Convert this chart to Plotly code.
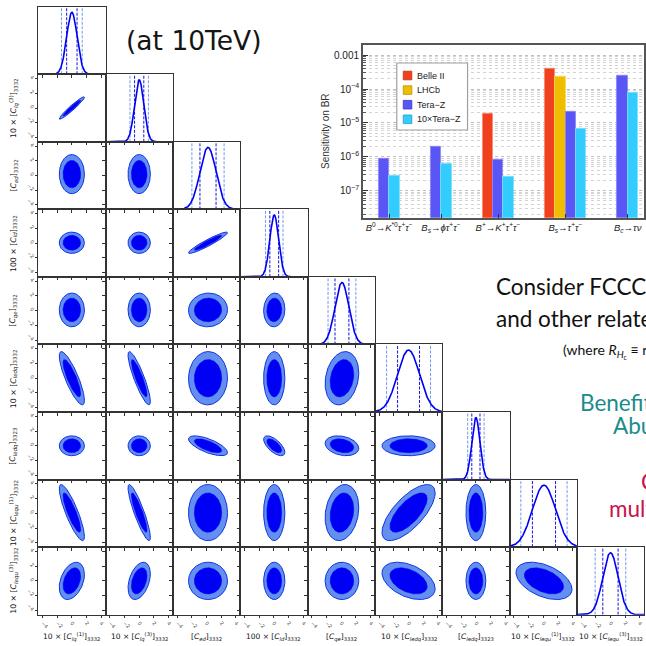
import numpy as np
import plotly.graph_objects as go

# ---------------- corner plot data ----------------
param_labels = [
    "10 × [<i>C</i><sub><i>lq</i></sub><sup>(1)</sup>]<sub>3332</sub>",
    "10 × [<i>C</i><sub><i>lq</i></sub><sup>(3)</sup>]<sub>3332</sub>",
    "[<i>C</i><sub><i>ed</i></sub>]<sub>3332</sub>",
    "100 × [<i>C</i><sub><i>ld</i></sub>]<sub>3332</sub>",
    "[<i>C</i><sub><i>qe</i></sub>]<sub>3332</sub>",
    "10 × [<i>C</i><sub><i>ledq</i></sub>]<sub>3332</sub>",
    "[<i>C</i><sub><i>ledq</i></sub>]<sub>3323</sub>",
    "10 × [<i>C</i><sub><i>lequ</i></sub><sup>(1)</sup>]<sub>3332</sub>",
    "10 × [<i>C</i><sub><i>lequ</i></sub><sup>(3)</sup>]<sub>3332</sub>",
]
param_means = [0.0, 0.0, 0.2, 0.05, 0.1, 0.0, 0.0, 0.1, 0.0]
param_sigmas = [0.71, 0.63, 1.10, 0.60, 0.95, 1.50, 0.56, 1.58, 1.05]
# correlation of row-parameter i with column-parameters 0..i-1
corr_rows = [
    [],
    [0.96],
    [0.0, 0.0],
    [0.0, 0.0, 0.94],
    [0.0, 0.0, 0.03, 0.05],
    [-0.83, -0.87, 0.02, 0.0, 0.2],
    [0.0, 0.0, -0.68, -0.65, -0.25, 0.0],
    [-0.85, -0.88, 0.0, 0.0, 0.18, 0.70, 0.0],
    [0.35, 0.38, 0.0, 0.0, 0.0, -0.42, 0.0, -0.45],
]
contour_levels = [2.42, 1.70]      # sqrt(delta chi2) for outer / inner region
axis_ticks = [-4, -2, 0, 2, 4]
axis_ticktext = ["−4", "−2", "0", "2", "4"]

# ---------------- bar chart data ----------------
decay_modes = [
    "<i>B</i><sup>0</sup>→<i>K</i><sup>*0</sup><i>τ</i><sup>+</sup><i>τ</i><sup>−</sup>",
    "<i>B<sub>s</sub></i>→<i>ϕτ</i><sup>+</sup><i>τ</i><sup>−</sup>",
    "<i>B</i><sup>+</sup>→<i>K</i><sup>+</sup><i>τ</i><sup>+</sup><i>τ</i><sup>−</sup>",
    "<i>B<sub>s</sub></i>→<i>τ</i><sup>+</sup><i>τ</i><sup>−</sup>",
    "<i>B<sub>c</sub></i>→<i>τν</i>",
]
experiments = ["Belle II", "LHCb", "Tera−Z", "10×Tera−Z"]
belle2 = [None, None, 1.9e-5, 3.9e-4, None]
lhcb = [None, None, None, 2.4e-4, None]
teraz = [8.7e-7, 2.0e-6, 8.3e-7, 2.1e-5, 2.5e-4]
teraz10 = [2.8e-7, 6.1e-7, 2.6e-7, 6.6e-6, 7.8e-5]
bar_colors = ["#f0401e", "#f0be00", "#5a55f5", "#33ccff"]
bar_edge = ["#f58a70", "#f5d560", "#8a86f7", "#80defc"]
legend_edge = ["#c8301a", "#c09000", "#3c36c8", "#20a0d0"]
y_tickvals = [1e-7, 1e-6, 1e-5, 1e-4, 1e-3]
y_ticktext = ["10<sup>−7</sup>", "10<sup>−6</sup>", "10<sup>−5</sup>", "10<sup>−4</sup>", "0.001"]

# ---------------- geometry ----------------
W = H = 646
GX0, GY0, CELL = 38.3, 6.7, 67.55
RNG = [-4.6, 4.6]
DARK = "#0000f5"
LIGHT = "#6390ee"
FRAME = "#333333"


def px2x(p):
    return min(max(p / W, 0.0), 1.0)


def px2y(p):
    return min(max(1 - p / H, 0.0), 1.0)


def xdom(j):
    return [px2x(GX0 + j * CELL), px2x(GX0 + (j + 1) * CELL)]


def ydom(i):
    return [px2y(GY0 + (i + 1) * CELL), px2y(GY0 + i * CELL)]


def ellipse(mx, my, sx, sy, rho, k, n=120):
    t = np.linspace(0, 2 * np.pi, n)
    cov = np.array([[sx * sx, rho * sx * sy], [rho * sx * sy, sy * sy]])
    L = np.linalg.cholesky(cov)
    pts = L @ np.vstack([np.cos(t), np.sin(t)]) * k
    return mx + pts[0], my + pts[1]


fig = go.Figure()
layout = {}
n = 0
npar = len(param_labels)
for i in range(npar):
    for j in range(i + 1):
        n += 1
        xa = "x" if n == 1 else f"x{n}"
        ya = "y" if n == 1 else f"y{n}"
        xk = "xaxis" if n == 1 else f"xaxis{n}"
        yk = "yaxis" if n == 1 else f"yaxis{n}"
        bottom = i == npar - 1
        left = j == 0
        common = dict(showline=True, mirror=True, linecolor=FRAME, linewidth=1,
                      showgrid=False, zeroline=False, fixedrange=True)
        layout[xk] = dict(domain=xdom(j), anchor=ya, range=RNG,
                          tickmode="array", tickvals=axis_ticks, ticktext=axis_ticktext,
                          ticks="outside", ticklen=2.5, tickwidth=0.8, tickcolor=FRAME,
                          showticklabels=bottom, tickangle=45,
                          tickfont=dict(size=5, color="#444", family="DejaVu Sans"),
                          **common)
        if i == j:
            m, s = param_means[i], param_sigmas[i]
            xs = np.linspace(RNG[0], RNG[1], 400)
            ys = np.exp(-0.5 * ((xs - m) / s) ** 2)
            layout[yk] = dict(domain=ydom(i), anchor=xa, range=[0, 1.09],
                              showticklabels=False, ticks="", **common)
            for mult, col in [(2, "#6d9bf0"), (1, "#1414e0")]:
                lx, ly = [], []
                for sgn in (-1, 1):
                    lx += [m + sgn * mult * s] * 2 + [None]
                    ly += [0, 1.09, None]
                fig.add_trace(go.Scatter(x=lx, y=ly, xaxis=xa, yaxis=ya, mode="lines",
                                         line=dict(color=col, width=1, dash="3px,1.5px"),
                                         showlegend=False, hoverinfo="skip"))
            fig.add_trace(go.Scatter(x=xs, y=ys, xaxis=xa, yaxis=ya, mode="lines",
                                     line=dict(color=DARK, width=1.6),
                                     showlegend=False, hoverinfo="skip"))
        else:
            layout[yk] = dict(domain=ydom(i), anchor=xa, range=RNG,
                              tickmode="array", tickvals=axis_ticks, ticktext=axis_ticktext,
                              ticks="outside", ticklen=2.5, tickwidth=0.8, tickcolor=FRAME,
                              showticklabels=left, tickangle=45,
                              tickfont=dict(size=5, color="#444", family="DejaVu Sans"),
                              **common)
            rho = corr_rows[i][j]
            for k, fillc, linec, lw in [(contour_levels[0], LIGHT, "#1030e8", 1.0),
                                        (contour_levels[1], DARK, DARK, 0.5)]:
                ex, ey = ellipse(param_means[j], param_means[i], param_sigmas[j],
                                 param_sigmas[i], rho, k)
                fig.add_trace(go.Scatter(x=ex, y=ey, xaxis=xa, yaxis=ya, mode="lines",
                                         fill="toself", fillcolor=fillc,
                                         line=dict(color=linec, width=lw),
                                         showlegend=False, hoverinfo="skip"))

annotations = []
shapes = []
col_font = dict(family="DejaVu Sans", size=7.5, color="#111")
row_font = dict(family="DejaVu Sans", size=7.8, color="#111")
for j in range(npar):
    cx = GX0 + (j + 0.5) * CELL
    annotations.append(dict(text=param_labels[j], x=px2x(cx), y=px2y(637),
                            xref="paper", yref="paper", showarrow=False,
                            xanchor="center", yanchor="middle", font=col_font))
for i in range(1, npar):
    cy = GY0 + (i + 0.5) * CELL
    annotations.append(dict(text=param_labels[i], x=px2x(14), y=px2y(cy),
                            xref="paper", yref="paper", showarrow=False, textangle=-90,
                            xanchor="center", yanchor="middle", font=row_font))

# ---------------- bar chart ----------------
GROUP_GAP = 3.0
series = [belle2, lhcb, teraz, teraz10]
positions = [[None] * len(decay_modes) for _ in series]
centers = []
cursor = 0.0
for g in range(len(decay_modes)):
    start = cursor
    for s in range(len(series)):
        if series[s][g] is not None:
            positions[s][g] = cursor + 0.5
            cursor += 1
    centers.append((start + cursor) / 2)
    cursor += GROUP_GAP

bx, by = "x46", "y46"
for s, name in enumerate(experiments):
    xs = [positions[s][g] for g in range(len(decay_modes)) if series[s][g] is not None]
    ys = [series[s][g] for g in range(len(decay_modes)) if series[s][g] is not None]
    fig.add_trace(go.Bar(x=xs, y=ys, width=1.0, name=name, xaxis=bx, yaxis=by,
                         showlegend=False,
                         marker=dict(color=bar_colors[s], line=dict(color=bar_edge[s], width=0.8))))

unit = 10.4
layout["xaxis46"] = dict(domain=[px2x(364), 1.0], anchor=by,
                         range=[(364 - 380) / unit, (646 - 380) / unit],
                         tickmode="array", tickvals=centers, ticktext=decay_modes,
                         ticks="inside", ticklen=4, tickcolor="#333",
                         tickfont=dict(family="Liberation Sans", size=9.5, color="#222"),
                         showline=True, linecolor="#555", linewidth=1.6, mirror=True,
                         showgrid=False, zeroline=False, fixedrange=True)
minor_vals = [m * 10.0 ** e for e in range(-8, -2) for m in range(2, 10)]
layout["yaxis46"] = dict(domain=[px2y(217.7), px2y(44.7)], anchor=bx, type="log",
                         range=[-7.80, -2.687],
                         tickmode="array", tickvals=y_tickvals, ticktext=y_ticktext,
                         ticks="inside", ticklen=5, tickcolor="#333",
                         tickfont=dict(family="Liberation Sans", size=10, color="#222"),
                         showline=True, linecolor="#555", linewidth=1.6, mirror=True,
                         showgrid=True, gridcolor="#c0c0c0", griddash="dot", gridwidth=1,
                         minor=dict(tickmode="array", tickvals=minor_vals, ticks="inside",
                                    ticklen=3, tickcolor="#555", showgrid=True,
                                    gridcolor="#d4d4d4", griddash="dot", gridwidth=1),
                         zeroline=False, fixedrange=True)
annotations.append(dict(text="Sensitivity on BR", x=px2x(326), y=px2y(131),
                        xref="paper", yref="paper", showarrow=False, textangle=-90,
                        xanchor="center", yanchor="middle",
                        font=dict(family="Liberation Sans", size=10, color="#333")))

# custom legend (box, swatches, labels)
LEG_X0, LEG_Y0, LEG_X1, LEG_Y1 = 398, 63, 469, 130
LEG_ROW0, LEG_STEP, SW = 75.5, 14.6, 8.6
shapes.append(dict(type="rect", xref="paper", yref="paper",
                   x0=px2x(LEG_X0), x1=px2x(LEG_X1), y0=px2y(LEG_Y1), y1=px2y(LEG_Y0),
                   line=dict(color="#a0a0a0", width=1.2), fillcolor="white", layer="above"))
for s, name in enumerate(experiments):
    cy = LEG_ROW0 + s * LEG_STEP
    shapes.append(dict(type="rect", xref="paper", yref="paper",
                       x0=px2x(404.5), x1=px2x(404.5 + SW), y0=px2y(cy + SW / 2), y1=px2y(cy - SW / 2),
                       line=dict(color=legend_edge[s], width=0.8), fillcolor=bar_colors[s],
                       layer="above"))
    annotations.append(dict(text=name, x=px2x(416), y=px2y(cy), xref="paper", yref="paper",
                            showarrow=False, xanchor="left", yanchor="middle",
                            font=dict(family="Liberation Sans", size=9, color="#222")))

# ---------------- slide text ----------------
slide = [
    dict(text="(at 10TeV)", x=px2x(124), y=px2y(41), font=dict(family="DejaVu Sans", size=26.5, color="#151515")),
    dict(text="Consider FCCC operators", x=px2x(496), y=px2y(286), font=dict(family="Lato", size=22.5, color="#111")),
    dict(text="and other related observables", x=px2x(496), y=px2y(319), font=dict(family="Lato", size=22.5, color="#111")),
    dict(text="(where <i>R</i><sub><i>H</i><sub>c</sub></sub> ≡ ratios of decay rates)", x=px2x(563), y=px2y(351), font=dict(family="Lato", size=14, color="#111")),
    dict(text="Benefit from", x=px2x(580), y=px2y(402), font=dict(family="Lato", size=22.5, color="#1a8c8c")),
    dict(text="Abundant", x=px2x(613), y=px2y(426), font=dict(family="Lato", size=22.5, color="#1a8c8c")),
    dict(text="Combine", x=px2x(641), y=px2y(481), font=dict(family="Lato", size=22.5, color="#c8124e")),
    dict(text="multiple", x=px2x(609), y=px2y(508), font=dict(family="Lato", size=22.5, color="#c8124e")),
]
for a in slide:
    a.update(xref="paper", yref="paper", showarrow=False, xanchor="left", yanchor="middle")
annotations += slide

layout.update(dict(
    width=W, height=H, autosize=False,
    margin=dict(l=0, r=0, t=0, b=0, pad=0),
    paper_bgcolor="white", plot_bgcolor="white",
    showlegend=False,
    annotations=annotations,
    shapes=shapes,
    bargap=0,
))
fig.update_layout(layout)
fig.write_html("out.html", config={"displayModeBar": False},
               post_script="document.body.style.margin='0';")
